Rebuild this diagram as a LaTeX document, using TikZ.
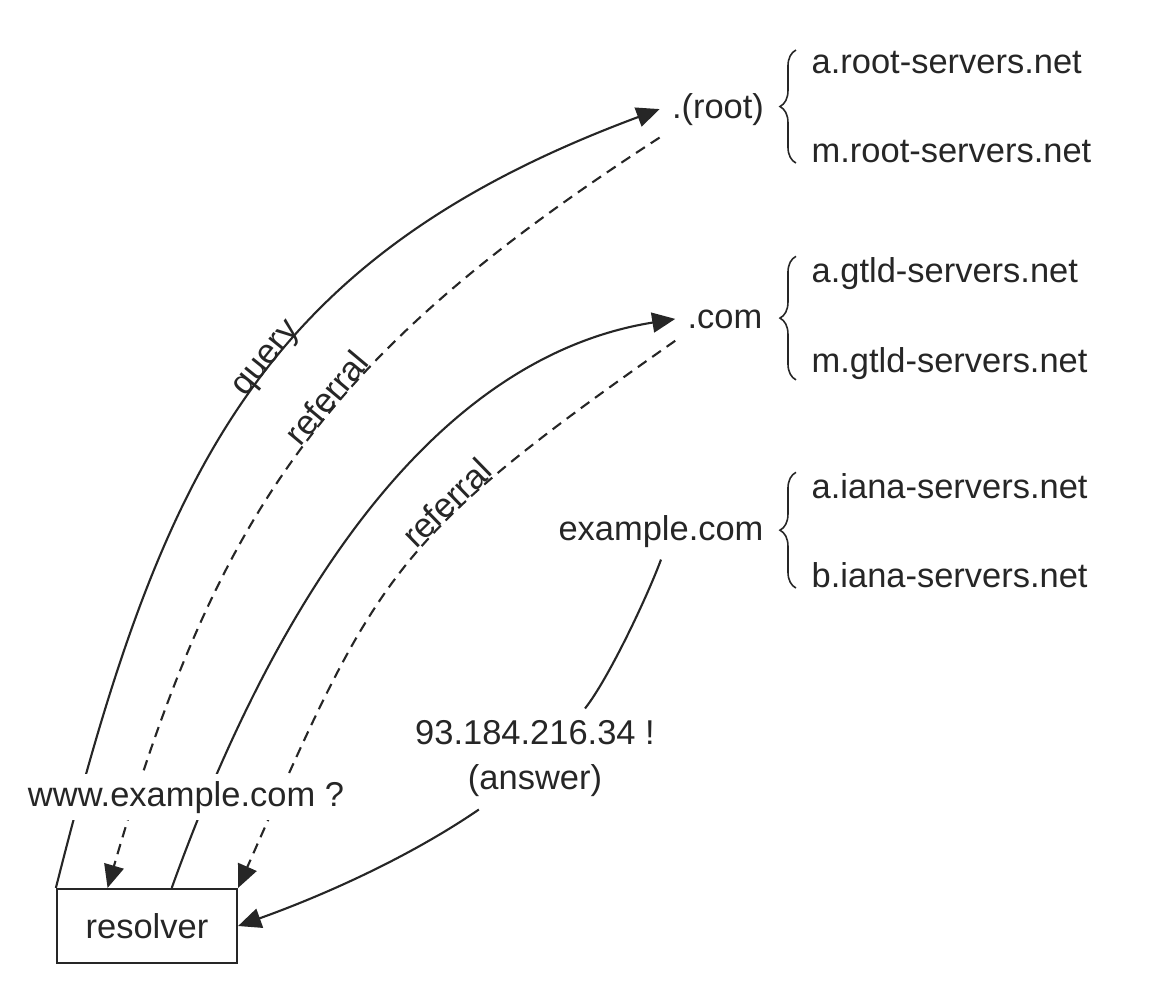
\documentclass[tikz,border=0pt]{standalone}
\usepackage{fontspec}
\setmainfont{Liberation Sans}
\usetikzlibrary{arrows.meta,decorations.pathreplacing}
\definecolor{ink}{HTML}{262626}

\begin{document}
\begin{tikzpicture}[
    x=0.01cm, y=-0.01cm,
    font=\fontsize{9.8}{12.8}\selectfont,
    every node/.style={text=ink},
    box/.style={rectangle, draw=ink, line width=0.6pt, minimum width=1.8cm, minimum height=0.74cm},
    zone/.style={anchor=base},
    server/.style={anchor=base west, inner sep=0pt},
    link/.style={draw=ink, line width=0.6pt},
    arrow/.style={link, -{Triangle[length=0.23cm, width=0.2cm]}},
    back/.style={arrow, dash pattern=on 3pt off 2pt},
    tag/.style={sloped, anchor=base, inner sep=1pt},
    curly/.style={draw=ink, line width=0.45pt, decorate, decoration={brace, amplitude=0.16cm}}
]

\useasboundingbox (0,0) rectangle (1156,996);

\node[box] (resolver) at (147,926) {resolver};
\node[zone] (root) at (718,118) {.(root)};
\node[zone] (com) at (725,328) {.com};
\node[zone] (example) at (661,540) {example.com};
\node[align=center] (answer) at (535,759) {93.184.216.34 !\\(answer)};

\node[server] (aroot) at (811,73) {a.root-servers.net};
\node[server] (mroot) at (811,162) {m.root-servers.net};
\node[server] (agtld) at (811,282) {a.gtld-servers.net};
\node[server] (mgtld) at (811,372) {m.gtld-servers.net};
\node[server] (aiana) at (811,498) {a.iana-servers.net};
\node[server] (biana) at (811,587) {b.iana-servers.net};

\draw[curly] ([xshift=-0.15cm]mroot.south west) -- ([xshift=-0.15cm]aroot.north west);
\draw[curly] ([xshift=-0.15cm]mgtld.south west) -- ([xshift=-0.15cm]agtld.north west);
\draw[curly] ([xshift=-0.15cm]biana.south west) -- ([xshift=-0.15cm]aiana.north west);

\draw[arrow] (resolver.north west) .. controls (160,476) and (256,259) .. (root.west)
    node[tag, pos=0.55] {query};
\draw[back] (root.south west) .. controls (325,354) and (218,510) .. (resolver.136)
    node[tag, pos=0.43] {referral};
\draw[arrow] (resolver.57) .. controls (256,654) and (407,362) .. (com.west);
\draw[back] (com.south west) .. controls (391,540) and (378,571) .. (resolver.north east)
    node[tag, pos=0.36] {referral};
\draw[link] (example.south) .. controls (648,595) and (609,678) .. ([xshift=0.5cm]answer.north);
\draw[arrow] (answer.222) .. controls (408,858) and (322,896) .. (resolver.east);

\node[zone, fill=white, inner sep=2pt] (www) at (186,806) {www.example.com ?};

\end{tikzpicture}
\end{document}
